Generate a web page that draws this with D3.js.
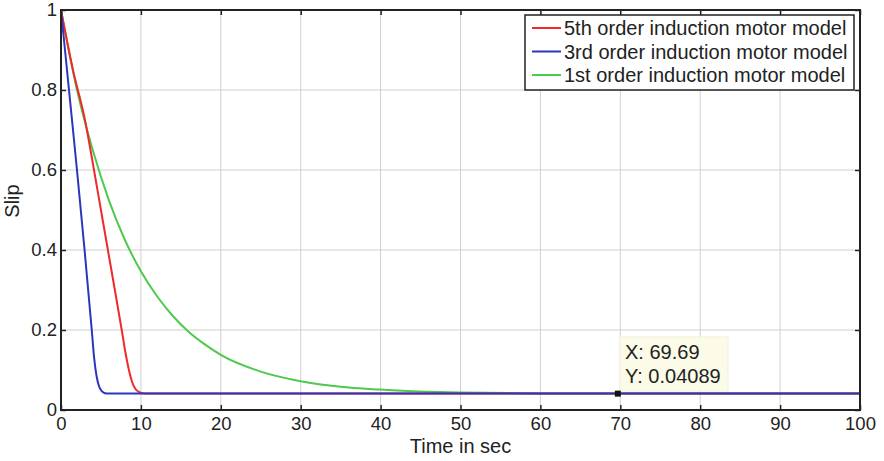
<!DOCTYPE html>
<html>
<head>
<meta charset="utf-8">
<script src="https://cdn.jsdelivr.net/npm/d3@7"></script>
<style>
  body { margin: 0; background: #fff; }
  svg { display: block; font-family: "Liberation Sans", Arial, sans-serif; }
</style>
</head>
<body>
<svg id="chart" width="884" height="461"></svg>
<script>
// Values
const xTicks = [0, 10, 20, 30, 40, 50, 60, 70, 80, 90, 100];
const yTicks = [0, 0.2, 0.4, 0.6, 0.8, 1];

const fifthT    = [0, 1.5, 3.0, 4.13, 5.0, 5.87, 6.74, 7.6, 8.1, 8.5, 8.9, 9.3, 9.7, 10.2, 11, 20, 50, 100];
const fifthSlip = [1, 0.85, 0.725, 0.6, 0.5, 0.4, 0.3, 0.2, 0.14, 0.1, 0.07, 0.053, 0.046, 0.042, 0.041, 0.041, 0.041, 0.041];

const thirdT    = [0, 1.0, 2.0, 2.95, 3.85, 4.15, 4.45, 4.75, 5.1, 5.5, 6, 20, 50, 100];
const thirdSlip = [1, 0.8, 0.6, 0.4, 0.2, 0.13, 0.085, 0.06, 0.047, 0.042, 0.041, 0.041, 0.041, 0.041];

const firstT    = [0, 2, 4, 6, 8, 10, 12, 14, 16, 18, 20, 25, 30, 35, 40, 45, 50, 60, 70, 100];
const firstSlip = [1, 0.80, 0.648, 0.524, 0.425, 0.347, 0.285, 0.235, 0.195, 0.164, 0.138, 0.096, 0.072, 0.058, 0.051, 0.046, 0.044, 0.0415, 0.041, 0.041];

const seriesNames = [
  "5th order induction motor model",
  "3rd order induction motor model",
  "1st order induction motor model"
];
const seriesColors = ["#ee2a2a", "#2b36bd", "#4dca4d"];

const tipX = 69.69;
const tipY = 0.04089;

// Layout
const svg = d3.select("#chart");
const margin = { top: 10, right: 24, bottom: 51, left: 61 };
const W = 884 - margin.left - margin.right;
const H = 461 - margin.top - margin.bottom;
const g = svg.append("g").attr("transform", `translate(${margin.left},${margin.top})`);

const x = d3.scaleLinear().domain([0, 100]).range([0, W]);
const y = d3.scaleLinear().domain([0, 1]).range([H, 0]);

// Grid
g.append("g").selectAll("line").data(xTicks.slice(1, -1)).enter().append("line")
  .attr("x1", d => x(d)).attr("x2", d => x(d)).attr("y1", 0).attr("y2", H)
  .attr("stroke", "#cfcfcf").attr("stroke-width", 1);
g.append("g").selectAll("line").data(yTicks.slice(1, -1)).enter().append("line")
  .attr("y1", d => y(d)).attr("y2", d => y(d)).attr("x1", 0).attr("x2", W)
  .attr("stroke", "#cfcfcf").attr("stroke-width", 1);

// Curves
const seriesData = [
  fifthT.map((t, i) => [t, fifthSlip[i]]),
  thirdT.map((t, i) => [t, thirdSlip[i]]),
  firstT.map((t, i) => [t, firstSlip[i]])
];
const line = d3.line().x(d => x(d[0])).y(d => y(d[1])).curve(d3.curveMonotoneX);

// draw green first, then red, blue on top
[2, 0, 1].forEach(i => {
  g.append("path").datum(seriesData[i])
    .attr("fill", "none")
    .attr("stroke", seriesColors[i])
    .attr("stroke-width", 2)
    .attr("d", line);
});

// Axes (ticks inside, box all round)
const fmtY = d => d === 0 ? "0" : d === 1 ? "1" : d3.format(".1f")(d);
g.append("g").attr("transform", `translate(0,${H})`)
  .call(d3.axisBottom(x).tickValues(xTicks).tickSize(-5).tickPadding(7).tickSizeOuter(0));
g.append("g")
  .call(d3.axisLeft(y).tickValues(yTicks).tickFormat(fmtY).tickSize(-5).tickPadding(4).tickSizeOuter(0));
g.append("g")
  .call(d3.axisTop(x).tickValues(xTicks).tickSize(-5).tickFormat("").tickSizeOuter(0));
g.append("g").attr("transform", `translate(${W},0)`)
  .call(d3.axisRight(y).tickValues(yTicks).tickSize(-5).tickFormat("").tickSizeOuter(0));

g.selectAll(".domain").remove();
g.selectAll(".tick line").attr("stroke", "#222").attr("stroke-width", 1.5);
g.selectAll(".tick text").attr("fill", "#222").style("font-size", "18.5px");

g.append("rect").attr("x", 0).attr("y", 0).attr("width", W).attr("height", H)
  .attr("fill", "none").attr("stroke", "#222").attr("stroke-width", 2);

// Axis labels
svg.append("text")
  .attr("x", margin.left + W / 2).attr("y", 453)
  .attr("text-anchor", "middle").attr("fill", "#222")
  .style("font-size", "20px").text("Time in sec");
svg.append("text")
  .attr("transform", "translate(19,201) rotate(-90)")
  .attr("text-anchor", "middle").attr("fill", "#222")
  .style("font-size", "20px").text("Slip");

// Data tip
const mx = x(tipX), my = y(tipY);
g.append("rect").attr("x", 559).attr("y", 327).attr("width", 108).attr("height", 54)
  .attr("fill", "#fbfbe8").attr("stroke", "#f0f0dc");
g.append("text").attr("x", 564).attr("y", 349).attr("fill", "#222")
  .style("font-size", "20px").text("X: " + tipX);
g.append("text").attr("x", 564).attr("y", 373).attr("fill", "#222")
  .style("font-size", "20px").text("Y: " + tipY);
g.append("rect").attr("x", mx - 3).attr("y", my - 3).attr("width", 6).attr("height", 6)
  .attr("fill", "#111");

// Legend
const legend = svg.append("g").attr("transform", "translate(525,15)");
legend.append("rect").attr("width", 329).attr("height", 75)
  .attr("fill", "#fff").attr("stroke", "#222").attr("stroke-width", 1.5);
seriesNames.forEach((name, i) => {
  const ly = 13 + i * 23.5;
  legend.append("line").attr("x1", 7).attr("x2", 36).attr("y1", ly).attr("y2", ly)
    .attr("stroke", seriesColors[i]).attr("stroke-width", 2);
  legend.append("text").attr("x", 39).attr("y", ly + 7).attr("fill", "#222")
    .style("font-size", "20px").text(name);
});
</script>
</body>
</html>
